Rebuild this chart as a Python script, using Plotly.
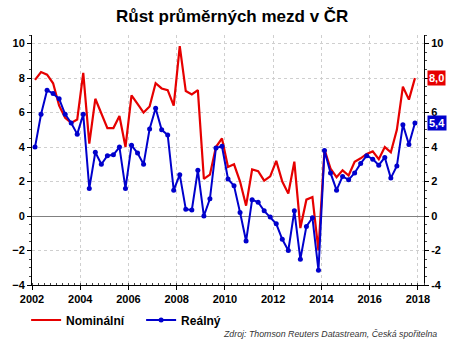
import plotly.graph_objects as go

# Quarterly wage growth (% y/y), 2002Q1 - 2017Q4
start_year = 2002
nominal = [7.9, 8.35, 8.2, 7.7, 6.4, 5.7, 5.4, 5.6,
           8.3, 4.2, 6.8, 6.0, 5.1, 5.1, 5.8, 4.0,
           7.0, 6.5, 6.0, 6.35, 7.7, 7.4, 7.3, 6.4,
           9.85, 7.25, 7.05, 7.3, 2.15, 2.4, 4.0, 4.5,
           2.85, 3.0, 2.0, 0.6, 2.7, 2.6, 2.05, 2.3,
           3.2, 2.0, 1.3, 3.15, -0.7, 0.95, 1.1, -2.0,
           3.85, 2.75, 2.25, 2.65, 2.35, 3.15, 3.35, 3.6,
           3.75, 3.3, 4.0, 3.7, 5.0, 7.5, 6.75, 8.0]
real = [4.0, 5.9, 7.3, 7.1, 6.8, 5.9, 5.4, 4.75,
        5.9, 1.6, 3.7, 3.0, 3.5, 3.55, 4.0, 1.6,
        4.1, 3.65, 3.0, 5.05, 6.25, 5.0, 4.7, 1.5,
        2.4, 0.4, 0.35, 2.65, 0.0, 1.0, 3.95, 4.05,
        2.15, 1.75, 0.2, -1.45, 0.95, 0.8, 0.3, -0.05,
        -0.45, -1.35, -2.0, 0.3, -2.5, -0.6, -0.1, -3.15,
        3.8, 2.5, 1.5, 2.3, 2.1, 2.5, 3.05, 3.5,
        3.3, 2.95, 3.4, 2.2, 2.9, 5.3, 4.15, 5.4]
year_ticks = list(range(2002, 2019, 2))
value_ticks = list(range(-4, 11, 2))

# Each quarter is placed at its midpoint on a decimal-year axis
x = [start_year + (i + 0.5) / 4 for i in range(len(nominal))]

RED = "#e60000"
BLUE = "#0000cc"
FONT = "Liberation Sans, Arial, sans-serif"

fig = go.Figure()
fig.add_trace(go.Scatter(x=x, y=nominal, name="Nominální", mode="lines",
                         line=dict(color=RED, width=2.2)))
fig.add_trace(go.Scatter(x=x, y=real, name="Reálný", mode="lines+markers",
                         line=dict(color=BLUE, width=2),
                         marker=dict(color=BLUE, size=5)))

yrange = [-4, 10.5]
axis_font = dict(family=FONT, size=11, color="black", weight="bold")

# The right axis leaves room for the highlighted latest-value badges
right_text = ["" if v == 8 else str(v) for v in value_ticks]

fig.update_layout(
    width=465, height=347,
    margin=dict(l=30, r=41, t=35, b=62),
    paper_bgcolor="white", plot_bgcolor="white",
    font=dict(family=FONT, color="black"),
    showlegend=True,
    legend=dict(orientation="h", x=-0.015, y=-0.14, xanchor="left", yanchor="middle",
                font=dict(family=FONT, size=12, color="black", weight="bold"),
                itemwidth=30, entrywidth=70, bgcolor="rgba(0,0,0,0)"),
    xaxis=dict(range=[2002, 2018.25], tickvals=year_ticks, tickfont=axis_font,
               showgrid=True, gridcolor="#cfcfcf", griddash="dot", gridwidth=1,
               showline=True, linecolor="black", linewidth=1,
               ticks="outside", ticklen=4, tickcolor="black",
               minor=dict(dtick=0.25, ticks="inside", ticklen=2, tickcolor="#444", showgrid=False),
               zeroline=False, fixedrange=True),
    yaxis=dict(range=yrange, tickvals=value_ticks, tickfont=axis_font,
               showgrid=True, gridcolor="#cfcfcf", griddash="dot", gridwidth=1,
               showline=True, linecolor="black", linewidth=1,
               ticks="outside", ticklen=4, tickcolor="black",
               minor=dict(dtick=0.5, ticks="outside", ticklen=2, tickcolor="#444", showgrid=False),
               zeroline=True, zerolinecolor="#808080", zerolinewidth=1, fixedrange=True),
    yaxis2=dict(range=yrange, tickvals=value_ticks, ticktext=right_text, tickfont=axis_font,
                overlaying="y", side="right", showgrid=False,
                showline=True, linecolor="black", linewidth=1,
                ticks="outside", ticklen=4, tickcolor="black",
                minor=dict(dtick=0.5, ticks="outside", ticklen=2, tickcolor="#444"),
                zeroline=False, fixedrange=True),
)

# Invisible trace keeps the right-hand axis active
fig.add_trace(go.Scatter(x=[x[0]], y=[0], yaxis="y2", mode="markers",
                         marker=dict(opacity=0), showlegend=False, hoverinfo="skip"))

fig.add_annotation(text="<b>Růst průměrných mezd v ČR</b>", xref="paper", yref="paper",
                   x=0.51, y=1.072, xanchor="center", yanchor="middle", showarrow=False,
                   font=dict(family=FONT, size=17, color="black"))

# Latest values highlighted on the right axis
for series, color in ((nominal, RED), (real, BLUE)):
    fig.add_annotation(text="<b>" + f"{series[-1]:.1f}".replace(".", ",") + "</b>",
                       xref="paper", yref="y", x=1, y=series[-1], xshift=3,
                       xanchor="left", yanchor="middle", showarrow=False,
                       bgcolor=color, borderpad=1,
                       font=dict(family=FONT, size=11, color="white"))

fig.add_annotation(text="<i>Zdroj: Thomson Reuters Datastream, Česká spořitelna</i>",
                   xref="paper", yref="paper", x=1.037, y=-0.196,
                   xanchor="right", yanchor="middle", showarrow=False,
                   font=dict(family=FONT, size=8.8, color="#333333"))

fig.write_html("out.html")
